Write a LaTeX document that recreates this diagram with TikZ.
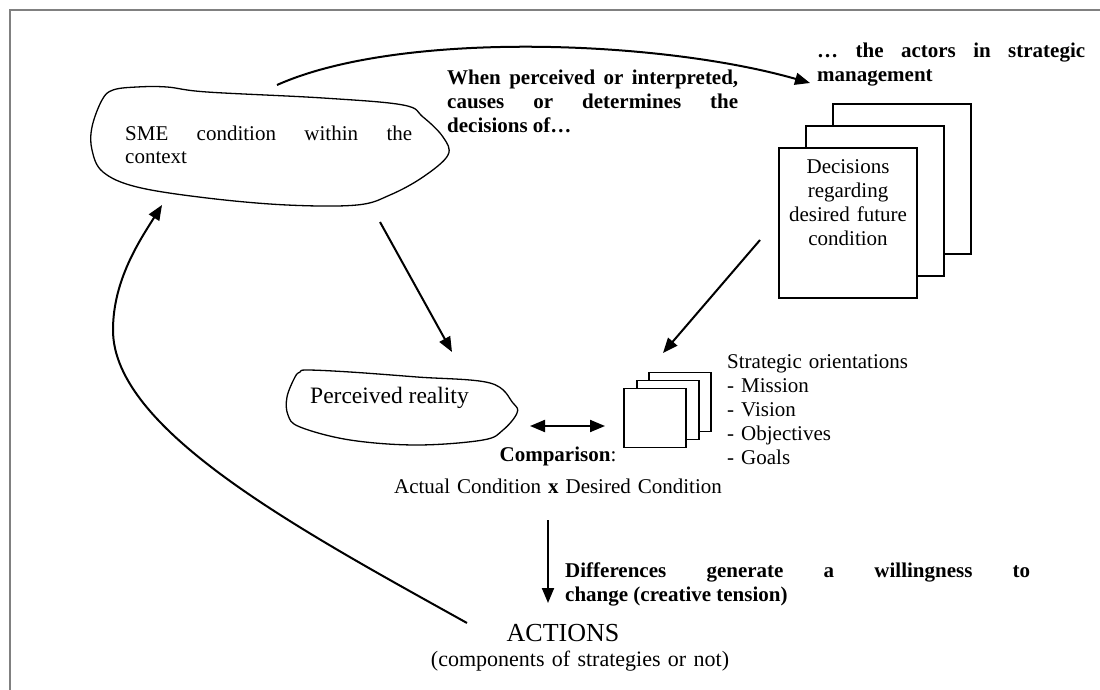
\documentclass[tikz,border=0pt]{standalone}
\usepackage{fontspec}
\setmainfont{Liberation Serif}
\usetikzlibrary{arrows.meta, positioning, calc}
\tikzset{
    pfeil/.style={line width=2pt, -{Triangle[length=15pt,width=12pt]}},
    wolke/.style={line width=1.3pt, line join=round},
    blatt/.style={draw, line width=2pt, fill=white, minimum width=138pt, minimum height=150pt},
    kaertchen/.style={draw, line width=1.7pt, fill=white, minimum width=62pt, minimum height=59pt},
    txt/.style={font=\fontsize{21}{24}\selectfont, inner sep=0pt},
    fett/.style={font=\fontsize{21}{24}\selectfont\bfseries, inner sep=0pt},
}

\begin{document}
\begin{tikzpicture}[x=1pt, y=-1pt]
\useasboundingbox (0,0) rectangle (1100,690);

% Rahmen
\draw[gray, line width=2.5pt] (10,690) -- (10,10) -- (1100,10);

% Wolke: SME
\draw[wolke] plot[smooth cycle, tension=0.6] coordinates {
    (113,90) (102,100) (92,127) (92,150) (103,172) (137,187) (207,198)
    (287,205) (357,205) (390,195) (423,177) (448,155) (443,137) (423,117)
    (403,105) (323,98) (207,92) (167,87) (137,87)};
\node[txt, text width=287pt, align=justify, anchor=base west] (sme) at (125,140)
    {\makebox[287pt][s]{SME condition within the}\\context};

% Wolke: wahrgenommene Realitaet
\draw[wolke] plot[smooth cycle, tension=0.6] coordinates {
    (300,372) (295,377) (287,397) (288,415) (300,427) (350,440) (417,445)
    (483,440) (503,430) (517,413) (513,403) (490,383) (417,377) (350,372)
    (307,370)};
\node[txt, font=\fontsize{23.5}{26}\selectfont, anchor=base west] (wahr) at (310,403)
    {Perceived reality};

% Texte oben
\node[fett, text width=291pt, align=justify, anchor=base west] (wenn) at (447,85)
    {\makebox[291pt][s]{When perceived or interpreted,}\\
     \makebox[291pt][s]{causes or determines the}\\
     decisions of…};
\node[fett, text width=268pt, align=justify, anchor=base west] (akteure) at (817,58)
    {\makebox[268pt][s]{… the actors in strategic}\\management};

% Entscheidungen (Stapel)
\node[blatt] (E1) at (902,179) {};
\node[blatt] (E2) at (875,201) {};
\node[blatt, txt, text width=126pt, align=center, inner xsep=6pt, inner ysep=11pt,
      text height=14pt, text depth=114pt, anchor=north west] (E3) at (778,147)
    {Decisions\\regarding\\desired future\\condition};

% Strategische Orientierungen (Stapel)
\node[kaertchen] (O1) at (680,402) {};
\node[kaertchen] (O2) at (668,410) {};
\node[kaertchen] (O3) at (655,418) {};
\node[txt, text width=240pt, align=left, anchor=base west] (liste) at (727,368)
    {Strategic orientations\\- Mission\\- Vision\\- Objectives\\- Goals};

% Vergleich
\node[txt, text width=440pt, align=center, anchor=base] (vergl) at (558,461)
    {\textbf{Comparison}:\\[8pt]Actual Condition \textbf{x} Desired Condition};

% Unterschiede
\node[fett, text width=465pt, align=justify, anchor=base west] (diff) at (565,577)
    {\makebox[465pt][s]{Differences generate a willingness to}\\change (creative tension)};

% Handlungen
\node[txt, font=\fontsize{22}{25}\selectfont, text width=340pt, align=center,
      anchor=base] (akt) at (580,641)
    {{\fontsize{26}{25}\selectfont ACTIONS}\rule{34pt}{0pt}\\(components of strategies or not)};

% Punkte fuer die Pfeile
\coordinate (S1) at (277,85);
\coordinate (A1) at (810,83);
\coordinate (S2) at (380,222);
\coordinate (W1) at (452,352);
\coordinate (E0) at (760,240);
\coordinate (O0) at (663,353);
\coordinate (L) at (113,330);
\coordinate (S3) at (162,205);

% Pfeile
\draw[pfeil] (S1) .. controls (400,30) and (660,40) .. (A1);
\draw[pfeil] (S2) -- (W1);
\draw[pfeil] (E0) -- (O0);
\draw[line width=2pt, {Triangle[length=15pt,width=12pt]}-{Triangle[length=15pt,width=12pt]}]
    (530,426) -- (605,426);
\draw[pfeil] (548,520) -- (548,603);
\draw[pfeil] (467,623) .. controls (300,530) and (113,430) .. (L)
    .. controls (113,280) and (140,240) .. (S3);

\end{tikzpicture}
\end{document}
